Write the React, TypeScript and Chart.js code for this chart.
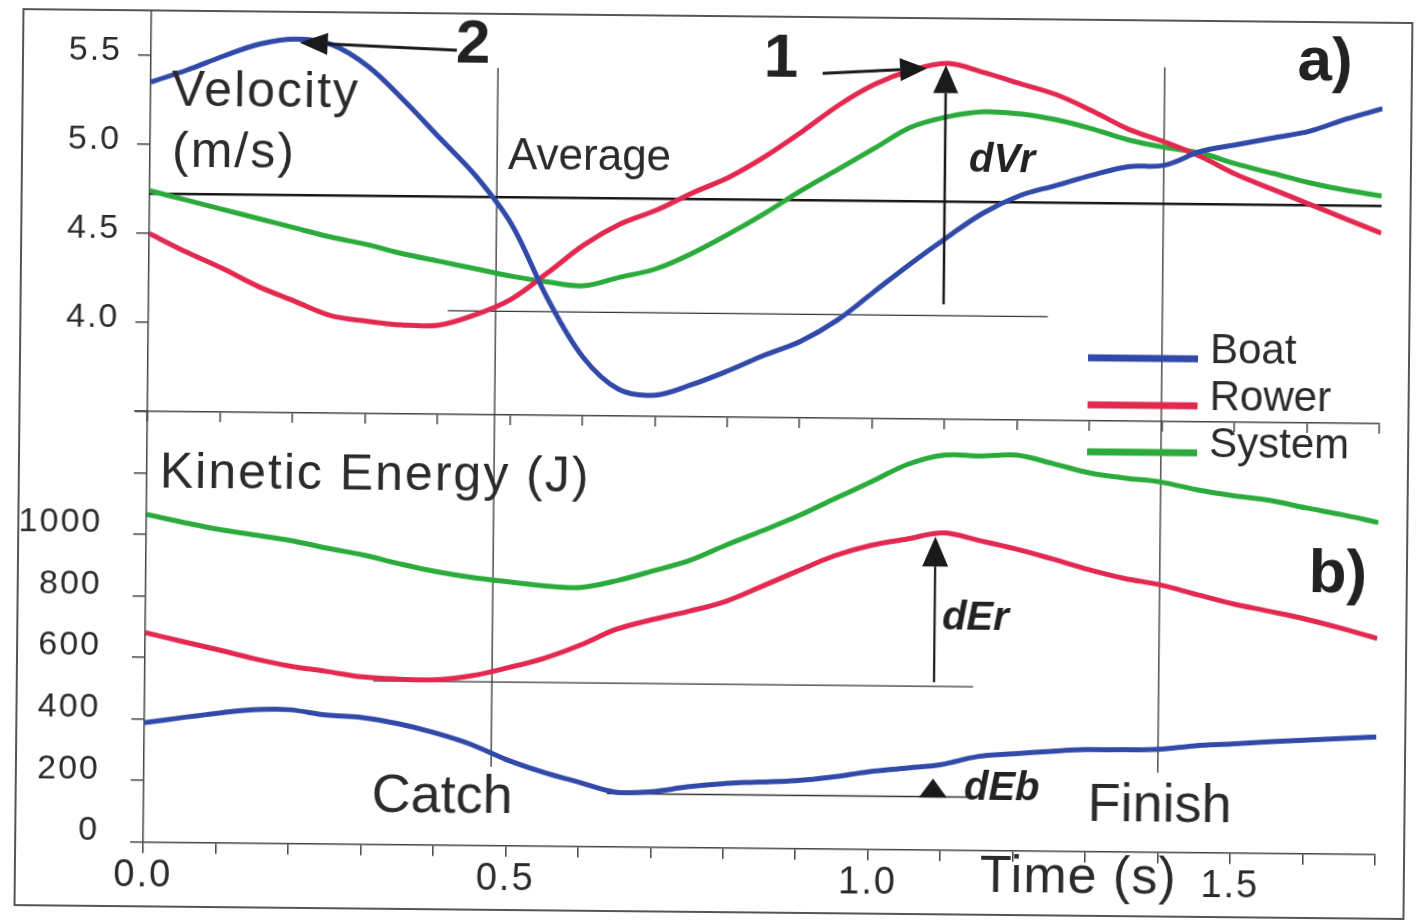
import { useEffect, useRef } from "react";
import { Chart, registerables } from "chart.js";

Chart.register(...registerables);

// ---------------- data ----------------
const TIME = [0, 0.05, 0.1, 0.15, 0.2, 0.25, 0.3, 0.35, 0.4, 0.45, 0.5, 0.55, 0.6, 0.65, 0.7, 0.75, 0.8, 0.85, 0.9, 0.95, 1.0, 1.05, 1.1, 1.15, 1.2, 1.25, 1.3, 1.35, 1.4, 1.45, 1.5, 1.55, 1.6, 1.65, 1.7];

// velocity (m/s)
const BOAT_V = [5.35, 5.42, 5.5, 5.57, 5.6, 5.57, 5.45, 5.26, 5.05, 4.84, 4.57, 4.16, 3.83, 3.65, 3.62, 3.68, 3.76, 3.85, 3.93, 4.05, 4.21, 4.37, 4.52, 4.66, 4.76, 4.82, 4.88, 4.93, 4.94, 5.02, 5.06, 5.1, 5.14, 5.21, 5.27];
const ROWER_V = [4.5, 4.4, 4.31, 4.21, 4.13, 4.05, 4.02, 4.0, 4.0, 4.06, 4.15, 4.3, 4.46, 4.58, 4.66, 4.76, 4.85, 4.97, 5.11, 5.26, 5.38, 5.46, 5.5, 5.45, 5.39, 5.33, 5.24, 5.14, 5.07, 4.99, 4.89, 4.81, 4.73, 4.65, 4.57];
const SYSTEM_V = [4.74, 4.69, 4.64, 4.59, 4.54, 4.49, 4.45, 4.4, 4.36, 4.32, 4.28, 4.25, 4.23, 4.28, 4.33, 4.42, 4.53, 4.65, 4.78, 4.9, 5.02, 5.14, 5.2, 5.23, 5.22, 5.19, 5.14, 5.08, 5.04, 5.01, 4.95, 4.9, 4.85, 4.81, 4.78];

// kinetic energy (J)
const BOAT_E = [388, 405, 421, 434, 435, 419, 412, 393, 365, 329, 280, 241, 209, 178, 180, 197, 209, 215, 221, 234, 252, 265, 278, 305, 315, 324, 331, 332, 335, 347, 354, 362, 369, 375, 382];
const ROWER_E = [681, 654, 628, 600, 577, 561, 544, 538, 537, 551, 578, 610, 654, 707, 740, 768, 801, 851, 903, 953, 988, 1010, 1031, 1007, 981, 950, 917, 889, 869, 839, 810, 787, 763, 734, 702];
const SYSTEM_E = [1065, 1041, 1019, 1002, 985, 961, 940, 913, 889, 871, 858, 846, 842, 865, 898, 933, 984, 1032, 1082, 1139, 1195, 1253, 1284, 1282, 1286, 1260, 1231, 1215, 1203, 1179, 1161, 1147, 1124, 1103, 1079];

const SERIES_NAMES = ["Boat", "Rower", "System"];

// axes
const T_RANGE = [0, 1.7];
const V_RANGE = [3.5, 5.75];
const E_RANGE = [0, 1400];
const X_TICKS = [0, 0.1, 0.2, 0.3, 0.4, 0.5, 0.6, 0.7, 0.8, 0.9, 1.0, 1.1, 1.2, 1.3, 1.4, 1.5, 1.6, 1.7];
const X_LABELS = [0, 0.5, 1.0, 1.5];
const V_TICKS = [3.5, 4.0, 4.5, 5.0, 5.5];
const V_LABELS = [4.0, 4.5, 5.0, 5.5];
const E_TICKS = [0, 200, 400, 600, 800, 1000, 1200, 1400];
const E_LABELS = [0, 200, 400, 600, 800, 1000];

// reference lines / annotations in data units
const AVERAGE_V = 4.723;
const CATCH = { t: 0.479, vTop: 5.45, eBottom: 256 };
const FINISH = { t: 1.399, vTop: 5.49, eBottom: 258 };
const REF_DVR = { t0: 0.413, t1: 1.241, v: 4.082 };
const REF_DER = { t0: 0.315, t1: 1.143, e: 532 };
const REF_DEB = { t0: 0.639, t1: 1.15, e: 173 };
const ARROW_2 = { t0: 0.422, v0: 5.546, t1: 0.205, v1: 5.58 };
const ARROW_1 = { t0: 0.927, v0: 5.437, t1: 1.071, v1: 5.471 };
const ARROW_DVR = { t: 1.097, v0: 4.146, v1: 5.49 };
const ARROW_DER = { t: 1.089, e0: 545, e1: 1019 };
const ARROW_DEB = { t: 1.089, e0: 173, e1: 232 };

// ---------------- layout & style ----------------
const W = 1416;
const H = 920;
const PLOT_LEFT = 147;
const PLOT_RIGHT = 1379;
const V_TOP = 16.5;
const SPLIT = 417;
const E_BOTTOM = 847.7;
const FONT = "'Liberation Sans', Arial, Helvetica, sans-serif";
const INK = "#2b2b2b";
const AXIS = "#444444";
const COLORS = ["#3149a8", "#e3294f", "#2aab3b"];
const TICK_SPACING = 2;

type Txt = { s: string; x: number; y: number; size: number; weight?: string; style?: string; align?: CanvasTextAlign; ls?: number };
const TEXTS: Txt[] = [
  { s: "Velocity", x: 168, y: 111, size: 50, ls: 2 },
  { s: "(m/s)", x: 169, y: 172, size: 50, ls: 2 },
  { s: "Average", x: 505, y: 171, size: 44 },
  { s: "2", x: 469, y: 65, size: 62, weight: "bold", align: "center" },
  { s: "1", x: 777, y: 76, size: 62, weight: "bold", align: "center" },
  { s: "a)", x: 1321, y: 74, size: 62, weight: "bold", align: "center" },
  { s: "dVr", x: 999, y: 169, size: 40, weight: "bold", style: "italic", align: "center" },
  { s: "Kinetic Energy (J)", x: 160, y: 493, size: 50, ls: 2 },
  { s: "b)", x: 1339, y: 586, size: 62, weight: "bold", align: "center" },
  { s: "dEr", x: 977, y: 627, size: 40, weight: "bold", style: "italic", align: "center" },
  { s: "dEb", x: 1005, y: 797, size: 40, weight: "bold", style: "italic", align: "center" },
  { s: "Catch", x: 375, y: 815, size: 54 },
  { s: "Finish", x: 1091, y: 817, size: 54 },
  { s: "Time (s)", x: 984, y: 889, size: 52, ls: 1 },
];
const LEGEND = { x0: 1087, x1: 1197, textX: 1209, y0: 354, dy: 47, size: 42, lineWidth: 7, textDrop: 4 };

function near(list: number[], v: number) {
  return list.some((l) => Math.abs(l - v) < 1e-6);
}

function drawArrow(ctx: CanvasRenderingContext2D, x0: number, y0: number, x1: number, y1: number, lw: number, headLen: number, headW: number, shaft = true) {
  const a = Math.atan2(y1 - y0, x1 - x0);
  const bx = x1 - headLen * Math.cos(a);
  const by = y1 - headLen * Math.sin(a);
  if (shaft) {
    ctx.beginPath();
    ctx.moveTo(x0, y0);
    ctx.lineTo(bx, by);
    ctx.lineWidth = lw;
    ctx.stroke();
  }
  ctx.beginPath();
  ctx.moveTo(x1, y1);
  ctx.lineTo(bx + (headW / 2) * Math.sin(a), by - (headW / 2) * Math.cos(a));
  ctx.lineTo(bx - (headW / 2) * Math.sin(a), by + (headW / 2) * Math.cos(a));
  ctx.closePath();
  ctx.fill();
}

// letter spacing for the tick labels (the scanned figure uses a wide-set face)
const tickSpacing = {
  id: "tickSpacing",
  beforeDraw(chart: any) {
    (chart.ctx as any).letterSpacing = `${TICK_SPACING}px`;
  },
  afterDatasetsDraw(chart: any) {
    (chart.ctx as any).letterSpacing = "0px";
  },
};

const topAnnotations = {
  id: "topAnnotations",
  afterDatasetsDraw(chart: any) {
    const ctx: CanvasRenderingContext2D = chart.ctx;
    const xs = chart.scales.x;
    const ys = chart.scales.y;
    const px = (t: number) => xs.getPixelForValue(t);
    const py = (v: number) => ys.getPixelForValue(v);
    ctx.save();
    ctx.fillStyle = "#1a1a1a";
    ctx.strokeStyle = "#1a1a1a";
    drawArrow(ctx, px(ARROW_2.t0), py(ARROW_2.v0), px(ARROW_2.t1), py(ARROW_2.v1), 3, 28, 22);
    drawArrow(ctx, px(ARROW_1.t0), py(ARROW_1.v0), px(ARROW_1.t1), py(ARROW_1.v1), 3, 27, 23);
    drawArrow(ctx, px(ARROW_DVR.t), py(ARROW_DVR.v0), px(ARROW_DVR.t), py(ARROW_DVR.v1), 2.5, 28, 25);
    ctx.restore();
  },
};

const bottomAnnotations = {
  id: "bottomAnnotations",
  afterDraw(chart: any) {
    const ctx: CanvasRenderingContext2D = chart.ctx;
    const xs = chart.scales.x;
    const ys = chart.scales.y;
    const px = (t: number) => xs.getPixelForValue(t);
    const py = (v: number) => ys.getPixelForValue(v);
    ctx.save();
    (ctx as any).letterSpacing = "0px";
    ctx.fillStyle = "#1a1a1a";
    ctx.strokeStyle = "#1a1a1a";
    drawArrow(ctx, px(ARROW_DER.t), py(ARROW_DER.e0), px(ARROW_DER.t), py(ARROW_DER.e1), 2.2, 30, 26);
    drawArrow(ctx, px(ARROW_DEB.t), py(ARROW_DEB.e0), px(ARROW_DEB.t), py(ARROW_DEB.e1), 2, 19, 28, false);

    // legend
    ctx.lineCap = "butt";
    SERIES_NAMES.forEach((name, i) => {
      const y = LEGEND.y0 + i * LEGEND.dy;
      ctx.strokeStyle = COLORS[i];
      ctx.lineWidth = LEGEND.lineWidth;
      ctx.beginPath();
      ctx.moveTo(LEGEND.x0, y);
      ctx.lineTo(LEGEND.x1, y);
      ctx.stroke();
      ctx.fillStyle = INK;
      ctx.font = `${LEGEND.size}px ${FONT}`;
      ctx.textAlign = "left";
      ctx.textBaseline = "alphabetic";
      ctx.fillText(name, LEGEND.textX, y + LEGEND.textDrop);
    });

    // texts
    TEXTS.forEach((t) => {
      ctx.font = `${t.style || "normal"} ${t.weight || "normal"} ${t.size}px ${FONT}`;
      (ctx as any).letterSpacing = `${t.ls || 0}px`;
      ctx.textAlign = t.align || "left";
      ctx.textBaseline = "alphabetic";
      ctx.fillStyle = t.weight === "bold" ? "#222" : INK;
      ctx.fillText(t.s, t.x, t.y);
    });
    (ctx as any).letterSpacing = "0px";
    ctx.restore();
  },
};

function series(label: string, ys: number[], color: string) {
  return {
    label,
    data: TIME.map((t, i) => ({ x: t, y: ys[i] })),
    borderColor: color,
    backgroundColor: color,
    borderWidth: 5,
    pointRadius: 0,
    tension: 0.35,
    fill: false,
  };
}

function segment(label: string, pts: { x: number; y: number }[], width: number, color = "#333") {
  return { label, data: pts, borderColor: color, backgroundColor: color, borderWidth: width, pointRadius: 0, tension: 0, fill: false };
}

const gridBase = { drawOnChartArea: false, drawTicks: true, color: AXIS, lineWidth: 1.5 };
const borderBase = { display: true, color: AXIS, width: 1.5 };

function noPadY(s: any) {
  s.width = PLOT_LEFT;
  s.paddingTop = 0;
  s.paddingBottom = 0;
}

export default function App() {
  const refA = useRef<HTMLCanvasElement>(null);
  const refB = useRef<HTMLCanvasElement>(null);

  useEffect(() => {
    const common = {
      responsive: false,
      animation: false as const,
      devicePixelRatio: 1,
      events: [] as any[],
      plugins: { legend: { display: false }, tooltip: { enabled: false } },
    };

    const a = new Chart(refA.current as HTMLCanvasElement, {
      type: "line",
      data: {
        datasets: [
          series(SERIES_NAMES[0], BOAT_V, COLORS[0]),
          series(SERIES_NAMES[1], ROWER_V, COLORS[1]),
          series(SERIES_NAMES[2], SYSTEM_V, COLORS[2]),
          segment("Average", [{ x: T_RANGE[0], y: AVERAGE_V }, { x: T_RANGE[1], y: AVERAGE_V }], 2.5, "#151515"),
          segment("dVr base", [{ x: REF_DVR.t0, y: REF_DVR.v }, { x: REF_DVR.t1, y: REF_DVR.v }], 1.3),
          segment("Catch", [{ x: CATCH.t, y: V_RANGE[0] }, { x: CATCH.t, y: CATCH.vTop }], 1.3),
          segment("Finish", [{ x: FINISH.t, y: V_RANGE[0] }, { x: FINISH.t, y: FINISH.vTop }], 1.3),
        ],
      },
      options: {
        ...common,
        layout: { padding: { left: 0, right: W - PLOT_RIGHT, top: V_TOP, bottom: 0 } },
        scales: {
          x: {
            type: "linear",
            min: T_RANGE[0],
            max: T_RANGE[1],
            position: "bottom",
            afterBuildTicks: (s: any) => { s.ticks = X_TICKS.map((v) => ({ value: v })); },
            afterFit: (s: any) => { s.height = H - SPLIT; s.paddingLeft = 0; s.paddingRight = 0; },
            ticks: { display: false, autoSkip: false },
            grid: { ...gridBase, tickLength: 10 },
            border: borderBase,
          },
          y: {
            type: "linear",
            min: V_RANGE[0],
            max: V_RANGE[1],
            position: "left",
            afterBuildTicks: (s: any) => { s.ticks = V_TICKS.map((v) => ({ value: v })); },
            afterFit: noPadY,
            ticks: {
              autoSkip: false,
              padding: 16,
              labelOffset: -4,
              color: INK,
              font: { family: FONT, size: 34, lineHeight: 1 },
              callback: (v: any) => (near(V_LABELS, Number(v)) ? Number(v).toFixed(1) : ""),
            },
            grid: { ...gridBase, tickLength: 13 },
            border: borderBase,
          },
        },
      } as any,
      plugins: [tickSpacing, topAnnotations],
    });

    const b = new Chart(refB.current as HTMLCanvasElement, {
      type: "line",
      data: {
        datasets: [
          series(SERIES_NAMES[0], BOAT_E, COLORS[0]),
          series(SERIES_NAMES[1], ROWER_E, COLORS[1]),
          series(SERIES_NAMES[2], SYSTEM_E, COLORS[2]),
          segment("dEr base", [{ x: REF_DER.t0, y: REF_DER.e }, { x: REF_DER.t1, y: REF_DER.e }], 1.3),
          segment("dEb base", [{ x: REF_DEB.t0, y: REF_DEB.e }, { x: REF_DEB.t1, y: REF_DEB.e }], 1.3),
          segment("Catch", [{ x: CATCH.t, y: CATCH.eBottom }, { x: CATCH.t, y: E_RANGE[1] }], 1.3),
          segment("Finish", [{ x: FINISH.t, y: FINISH.eBottom }, { x: FINISH.t, y: E_RANGE[1] }], 1.3),
        ],
      },
      options: {
        ...common,
        layout: { padding: { left: 0, right: W - PLOT_RIGHT, top: SPLIT, bottom: 0 } },
        scales: {
          x: {
            type: "linear",
            min: T_RANGE[0],
            max: T_RANGE[1],
            position: "bottom",
            afterBuildTicks: (s: any) => { s.ticks = X_TICKS.map((v) => ({ value: v })); },
            afterFit: (s: any) => { s.height = H - E_BOTTOM; s.paddingLeft = 0; s.paddingRight = 0; },
            ticks: {
              autoSkip: false,
              maxRotation: 0,
              padding: 0,
              color: INK,
              font: { family: FONT, size: 38, lineHeight: 1.2 },
              callback: (v: any) => (near(X_LABELS, Number(v)) ? Number(v).toFixed(1) : ""),
            },
            grid: { ...gridBase, tickLength: 11 },
            border: borderBase,
          },
          y: {
            type: "linear",
            min: E_RANGE[0],
            max: E_RANGE[1],
            position: "left",
            afterBuildTicks: (s: any) => { s.ticks = E_TICKS.map((v) => ({ value: v })); },
            afterFit: noPadY,
            ticks: {
              autoSkip: false,
              padding: 31,
              labelOffset: -11,
              color: INK,
              font: { family: FONT, size: 34, lineHeight: 1 },
              callback: (v: any) => (near(E_LABELS, Number(v)) ? String(Number(v)) : ""),
            },
            grid: { ...gridBase, tickLength: 13 },
            border: borderBase,
          },
        },
      } as any,
      plugins: [tickSpacing, bottomAnnotations],
    });

    return () => {
      a.destroy();
      b.destroy();
    };
  }, []);

  const layer: any = { position: "absolute", left: 0, top: 0, width: W, height: H };
  return (
    <div
      style={{
        position: "fixed",
        left: 0,
        top: 0,
        width: W,
        height: H,
        background: "#fff",
        transform: "rotate(0.573deg)",
        transformOrigin: `${W / 2}px ${H / 2}px`,
      }}
    >
      <div
        style={{
          position: "absolute",
          left: 18,
          top: 15,
          width: 1391,
          height: 898,
          border: "2px solid #555",
          boxSizing: "border-box",
        }}
      />
      <canvas ref={refA} width={W} height={H} style={layer} />
      <canvas ref={refB} width={W} height={H} style={layer} />
    </div>
  );
}
